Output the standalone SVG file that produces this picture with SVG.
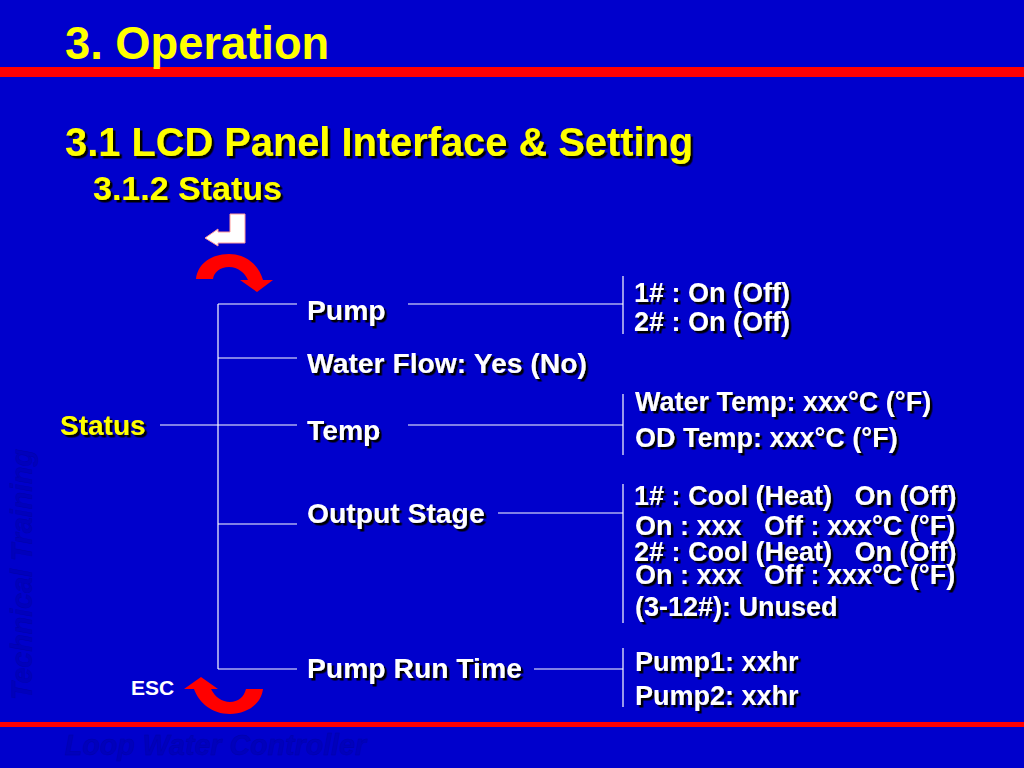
<svg xmlns="http://www.w3.org/2000/svg" width="1024" height="768" viewBox="0 0 1024 768">
<defs>
<style>
text{font-family:"Liberation Sans",Arial,sans-serif;font-weight:bold}
.t{font-size:27px;fill:#fff}
.m{font-size:28.3px;fill:#fff}
.y{fill:#ffff00}
.c line{stroke:#fff;stroke-width:1.2}
.wm{font-size:28.6px;font-style:italic;fill:#0000bc;stroke:#0000a8;stroke-width:.4}
</style>
<filter id="sh" x="-5%" y="-20%" width="110%" height="140%"><feDropShadow dx="2.5" dy="2.5" stdDeviation="0.5" flood-color="#000" flood-opacity="1"/></filter>
</defs>
<rect width="1024" height="768" fill="#0000cc"/>
<rect x="0" y="67" width="1024" height="10" fill="#ff0000"/>
<rect x="0" y="722" width="1024" height="5" fill="#ff0000"/>
<g id="watermarks">
<text class="wm" x="65" y="755">Loop Water Controller</text>
<text class="wm" transform="translate(32,700) rotate(-90)">Technical Training</text>
</g>
<g id="titles">
<text x="65" y="59" class="y" style="font-size:45.3px">3. Operation</text>
<text x="65" y="156" style="font-size:39.8px" class="y" filter="url(#sh)">3.1 LCD Panel Interface &amp; Setting</text>
<text x="93" y="200" style="font-size:34px" class="y" filter="url(#sh)">3.1.2 Status</text>
</g>
<g id="connectors" class="c">
<line x1="160" y1="425" x2="297" y2="425"/>
<line x1="218" y1="304" x2="218" y2="669"/>
<line x1="218" y1="304" x2="297" y2="304"/>
<line x1="218" y1="358" x2="297" y2="358"/>
<line x1="218" y1="524" x2="297" y2="524"/>
<line x1="218" y1="669" x2="297" y2="669"/>
<line x1="408" y1="304" x2="623" y2="304"/>
<line x1="623" y1="276" x2="623" y2="334"/>
<line x1="408" y1="425" x2="623" y2="425"/>
<line x1="623" y1="394" x2="623" y2="455"/>
<line x1="498" y1="513" x2="623" y2="513"/>
<line x1="623" y1="484" x2="623" y2="623"/>
<line x1="534" y1="669" x2="623" y2="669"/>
<line x1="623" y1="648" x2="623" y2="707"/>
</g>
<g id="enter-icon"><path d="M230 214H245V243H218V246L205 238L218 229V232H230Z" fill="#fff" stroke="#ff9999" stroke-width="1"/></g>
<g id="arrow-next"><path d="M196 279C198 263 212 254 229 254C247 254 259 266 263 280H273L257 292L240 280H248C245 273 238 267 229 267C220 267 214 272 213 279Z" fill="#ff0000"/></g>
<g id="arrow-esc"><path d="M263 689C261 705 246 714 230 714C212 714 199 703 194 689H184L201 677L218 689H211C215 697 222 702 230 702C238 702 244 697 246 689Z" fill="#ff0000"/></g>
<g id="node-status"><text x="60" y="435" class="y" style="font-size:28px" filter="url(#sh)">Status</text></g>
<g id="node-pump"><text x="307" y="320" class="m" filter="url(#sh)">Pump</text></g>
<g id="node-flow"><text x="307" y="373" class="m" filter="url(#sh)">Water Flow: Yes (No)</text></g>
<g id="node-temp"><text x="307" y="440" class="m" filter="url(#sh)">Temp</text></g>
<g id="node-output"><text x="307" y="523" class="m" filter="url(#sh)">Output Stage</text></g>
<g id="node-runtime"><text x="307" y="678" class="m" filter="url(#sh)">Pump Run Time</text></g>
<g id="esc"><text x="131" y="695" fill="#fff" style="font-size:21px">ESC</text></g>
<g id="detail-pump">
<text x="634" y="302" class="t" filter="url(#sh)">1# : On (Off)</text>
<text x="634" y="331" class="t" filter="url(#sh)">2# : On (Off)</text>
</g>
<g id="detail-temp">
<text x="635" y="411" class="t" filter="url(#sh)">Water Temp: xxx°C (°F)</text>
<text x="635" y="447" class="t" filter="url(#sh)">OD Temp: xxx°C (°F)</text>
</g>
<g id="detail-output">
<text x="634" y="505" class="t" filter="url(#sh)" xml:space="preserve">1# : Cool (Heat)   On (Off)</text>
<text x="635" y="535" class="t" filter="url(#sh)" xml:space="preserve">On : xxx   Off : xxx°C (°F)</text>
<text x="634" y="561" class="t" filter="url(#sh)" xml:space="preserve">2# : Cool (Heat)   On (Off)</text>
<text x="635" y="584" class="t" filter="url(#sh)" xml:space="preserve">On : xxx   Off : xxx°C (°F)</text>
<text x="635" y="616" class="t" filter="url(#sh)">(3-12#): Unused</text>
</g>
<g id="detail-runtime">
<text x="635" y="671" class="t" filter="url(#sh)">Pump1: xxhr</text>
<text x="635" y="705" class="t" filter="url(#sh)">Pump2: xxhr</text>
</g>
</svg>
